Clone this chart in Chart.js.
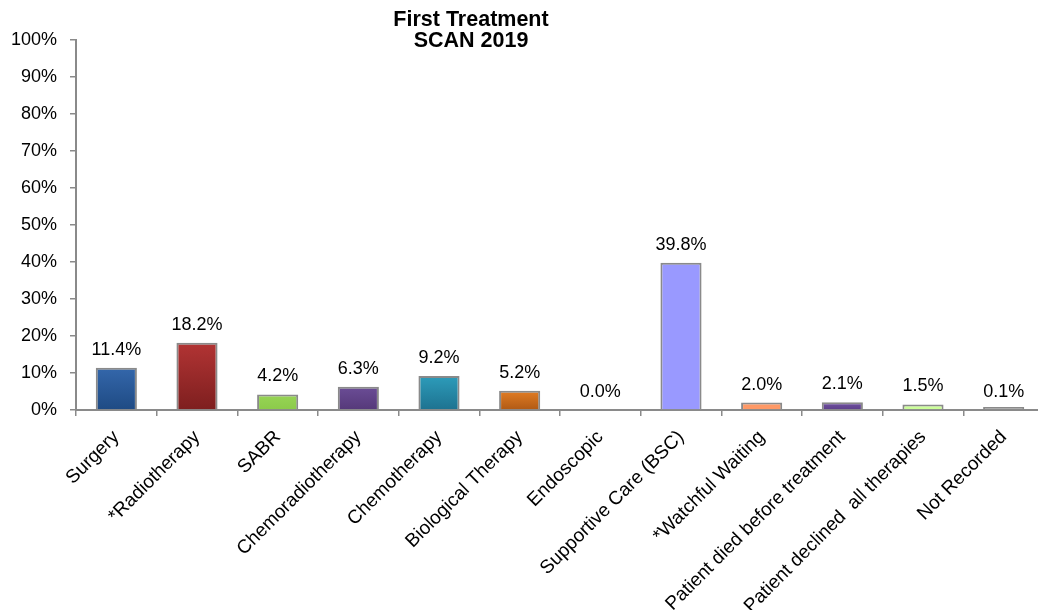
<!DOCTYPE html>
<html lang="en">
<head>
    <meta charset="UTF-8">
    <title>First Treatment SCAN 2019</title>
    <script src="https://cdn.jsdelivr.net/npm/chart.js"></script>
    <style>
        html, body { margin: 0; padding: 0; background: #fff; overflow: hidden; }
        #chartBox { width: 1044px; height: 610px; }
    </style>
</head>
<body>
    <div id="chartBox">
        <canvas id="treatmentChart" width="1044" height="610"></canvas>
    </div>
    <script>
        const titleLines = ['First Treatment', 'SCAN 2019'];
        const categories = [
            'Surgery', '*Radiotherapy', 'SABR', 'Chemoradiotherapy', 'Chemotherapy',
            'Biological Therapy', 'Endoscopic', 'Supportive Care (BSC)', '*Watchful Waiting',
            'Patient died before treatment', 'Patient declined  all therapies', 'Not Recorded'
        ];
        const percentages = [11.4, 18.2, 4.2, 6.3, 9.2, 5.2, 0.0, 39.8, 2.0, 2.1, 1.5, 0.1];
        const yTicks = [0, 10, 20, 30, 40, 50, 60, 70, 80, 90, 100];

        // top / bottom of each bar's fill
        const topColours = ['#3467ab', '#b23434', '#97d455', '#6b4d96', '#2d9cba', '#e27d24',
            'rgba(0,0,0,0)', '#9999ff', '#ff9966', '#7152a2', '#ccff99', '#9a9a9a'];
        const bottomColours = ['#1f4b84', '#7e1f1f', '#8ccb4b', '#56397a', '#1e7391', '#b25b15',
            'rgba(0,0,0,0)', '#9999ff', '#ff9966', '#5e408b', '#ccff99', '#9a9a9a'];
        const borderWidths = percentages.map(v => (v === 0 ? 0 : 2));

        const font = '"Liberation Sans", Arial, sans-serif';

        const gradientFill = {
            id: 'gradientFill',
            beforeDatasetsDraw(chart) {
                const ctx = chart.ctx;
                chart.getDatasetMeta(0).data.forEach((bar, i) => {
                    if (bar.base - bar.y < 4) return;
                    const g = ctx.createLinearGradient(0, bar.y, 0, bar.base);
                    g.addColorStop(0, topColours[i]);
                    g.addColorStop(1, bottomColours[i]);
                    bar.options.backgroundColor = g;
                });
            }
        };

        const valueLabels = {
            id: 'valueLabels',
            afterDatasetsDraw(chart) {
                const ctx = chart.ctx;
                const base = chart.scales.y.getPixelForValue(0);
                ctx.save();
                ctx.font = '18px ' + font;
                ctx.fillStyle = '#000';
                ctx.textAlign = 'center';
                ctx.textBaseline = 'middle';
                chart.getDatasetMeta(0).data.forEach((bar, i) => {
                    const top = chart.scales.y.getPixelForValue(percentages[i]);
                    ctx.fillText(percentages[i].toFixed(1) + '%', bar.x, Math.min(top, base) - 18);
                });
                ctx.restore();
            }
        };

        const chartTitle = {
            id: 'chartTitle',
            afterDraw(chart) {
                const ctx = chart.ctx;
                ctx.save();
                ctx.font = 'bold 21.5px ' + font;
                ctx.fillStyle = '#000';
                ctx.textAlign = 'center';
                ctx.textBaseline = 'middle';
                titleLines.forEach((line, i) => ctx.fillText(line, 471, 20 + i * 21));
                ctx.restore();
            }
        };

        new Chart(document.getElementById('treatmentChart'), {
            type: 'bar',
            data: {
                labels: categories,
                datasets: [{
                    data: percentages,
                    backgroundColor: topColours,
                    borderColor: '#8a8a8a',
                    borderWidth: borderWidths,
                    minBarLength: 3,
                    barPercentage: 0.51,
                    categoryPercentage: 1.0
                }]
            },
            options: {
                responsive: false,
                animation: false,
                layout: { padding: { top: 40, left: 0, right: 0, bottom: 0 } },
                plugins: {
                    legend: { display: false },
                    tooltip: { enabled: false },
                    title: { display: false }
                },
                scales: {
                    x: {
                        grid: { drawOnChartArea: false, tickLength: 6, color: '#8a8a8a', lineWidth: 1.5 },
                        border: { color: '#8a8a8a', width: 2 },
                        ticks: {
                            autoSkip: false,
                            minRotation: 45,
                            maxRotation: 45,
                            color: '#000',
                            font: { family: font, size: 19 },
                            padding: 10
                        },
                        afterFit(scale) { scale.height = 200; }
                    },
                    y: {
                        min: 0,
                        max: 100,
                        afterBuildTicks(scale) { scale.ticks = yTicks.map(v => ({ value: v })); },
                        grid: { drawOnChartArea: false, tickLength: 6, color: '#8a8a8a', lineWidth: 1.5 },
                        border: { color: '#8a8a8a', width: 2 },
                        ticks: {
                            color: '#000',
                            font: { family: font, size: 18 },
                            padding: 13,
                            callback: v => v + '%'
                        },
                        afterFit(scale) { scale.width = 76; }
                    }
                }
            },
            plugins: [gradientFill, valueLabels, chartTitle]
        });
    </script>
</body>
</html>
